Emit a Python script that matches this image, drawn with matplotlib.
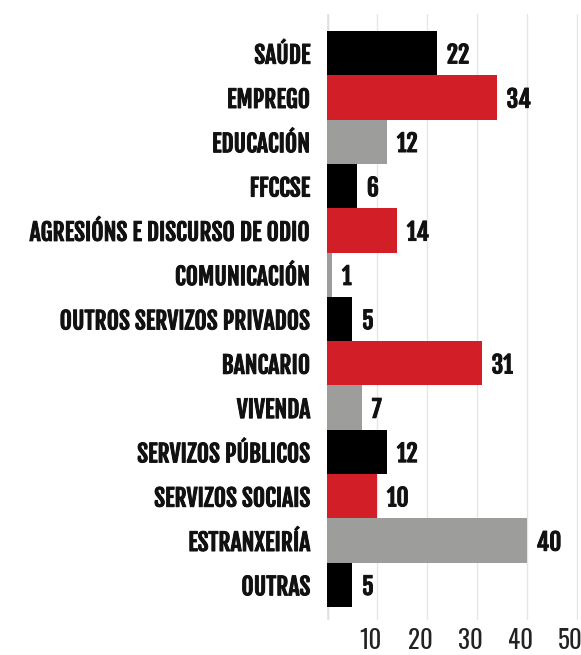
import matplotlib
matplotlib.use('Agg')
import matplotlib.pyplot as plt
import matplotlib.patheffects as pe
import numpy as np

# data
categorias = ['SAÚDE', 'EMPREGO', 'EDUCACIÓN', 'FFCCSE', 'AGRESIÓNS E DISCURSO DE ODIO',
              'COMUNICACIÓN', 'OUTROS SERVIZOS PRIVADOS', 'BANCARIO', 'VIVENDA',
              'SERVIZOS PÚBLICOS', 'SERVIZOS SOCIAIS', 'ESTRANXEIRÍA', 'OUTRAS']
valores = [22, 34, 12, 6, 14, 1, 5, 31, 7, 12, 10, 40, 5]
xticks = [0, 10, 20, 30, 40, 50]

cores = ['#000000', '#d21e26', '#9d9d9b']
BOLDFONT = ['Fjalla One', 'Barlow Condensed', 'Oswald', 'DejaVu Sans']
FONT = ['Oswald', 'Barlow Condensed', 'DejaVu Sans']
grosso = [pe.withStroke(linewidth=0.7, foreground='#111111')]

fig = plt.figure(figsize=(5.81, 6.55), dpi=100)
ax = fig.add_axes([327/581, 1-620/655, 251/581, 606/655])

y = np.arange(len(categorias))
barcores = [cores[i % 3] for i in range(len(categorias))]
ax.barh(y, valores, height=1.0, color=barcores, zorder=2)

for yi, v in zip(y, valores):
    ax.text(v + 2, yi + 0.05, str(v), va='center', ha='left', path_effects=grosso,
            fontsize=17, fontweight='bold', family=BOLDFONT, color='#111111')

# gridlines on major ticks, labels on minor ticks nudged a little left
ax.set_xticks(xticks)
ax.set_xticklabels([])
ax.set_xticks([t - 1.3 for t in xticks], minor=True)
ax.set_xticklabels([str(t) for t in xticks], minor=True, family=FONT, fontsize=18,
                   fontweight='light', color='#222222')
ax.set_yticks(y)
ax.set_yticklabels(categorias, family=BOLDFONT, fontsize=17, fontweight='bold', color='#111111')
for lab in ax.get_yticklabels():
    lab.set_path_effects(grosso)
ax.set_xlim(0, 50.3)
ax.set_ylim(12.5 + 13/44.2, -0.5 - 17/44.2)
ax.tick_params(axis='both', which='both', length=0)
ax.tick_params(axis='y', pad=12)
ax.tick_params(axis='x', which='both', pad=6)

ax.grid(axis='x', which='major', color='#e6e6e6', linewidth=1, zorder=0)
ax.axvline(0, color='#dedede', linewidth=2.5, zorder=1)
for s in ax.spines.values():
    s.set_visible(False)

plt.savefig('out.png', dpi=100)
